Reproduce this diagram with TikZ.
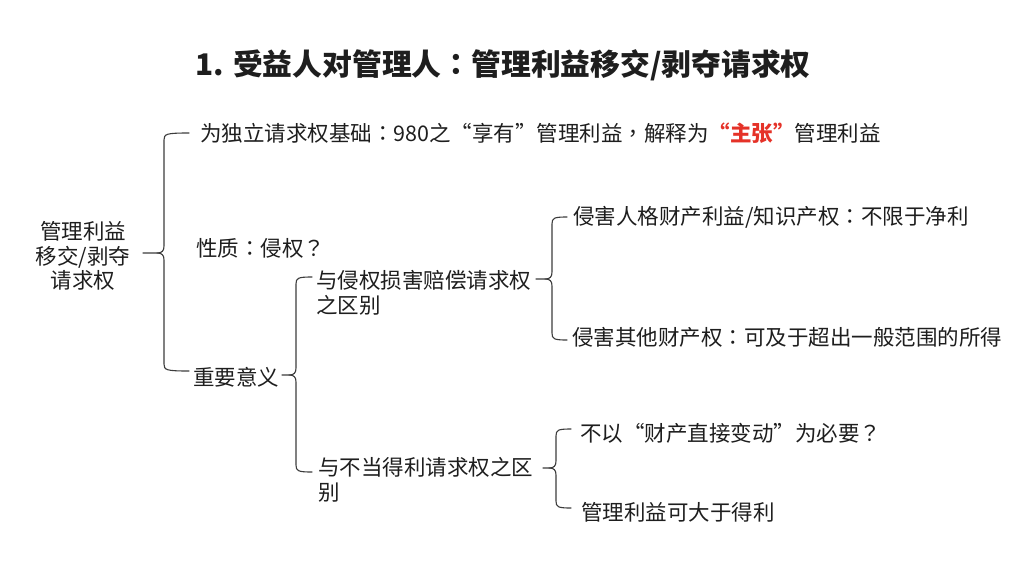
\documentclass[tikz,border=0pt]{standalone}
\usepackage{fontspec}
\setmainfont{Noto Sans CJK SC}
\newfontfamily\pctfont{Noto Sans CJK TC}
\newcommand{\cc}{{\pctfont ：}}
\newcommand{\qq}{{\pctfont ？}}
\newcommand{\cm}{{\pctfont ，}}
\definecolor{txt}{HTML}{1E1E1E}
\definecolor{brc}{HTML}{3C3C3C}
\definecolor{hl}{HTML}{E53228}
\newcommand{\bracepath}[6]{% tip-x, tip-y, vert-x, top-y, bottom-y, hook-x
  \draw[brace] (#6,#4) .. controls ({#3+2},#4) and (#3,{#4+1}) .. (#3,{#4+7})
    -- (#3,{#2-7}) .. controls (#3,{#2-2}) and ({#3-2},#2) .. ({#3-7},#2) -- (#1,#2);
  \draw[brace] ({#3-7},#2) .. controls ({#3-2},#2) and (#3,{#2+2}) .. (#3,{#2+7})
    -- (#3,{#5-7}) .. controls (#3,{#5-1}) and ({#3+2},#5) .. (#6,#5);
}
\tikzset{
  brace/.style={draw=brc, line width=1.1pt, line cap=round, line join=round},
  item/.style={anchor=west, inner sep=0pt, text=txt, font=\fontsize{21.5}{24.5}\selectfont, align=left},
}
\begin{document}
\begin{tikzpicture}[x=1pt,y=-1pt]
\useasboundingbox[fill=white] (0,0) rectangle (1018,570);
% title
\node[inner sep=0pt, text=txt, font=\fontsize{29.8}{33}\selectfont\bfseries] (title) at (503,65) {1. 受益人对管理人{\bfseries\cc}管理利益移交/剥夺请求权};
% root
\node[inner sep=0pt, text=txt, font=\fontsize{21.5}{24.5}\selectfont, align=center] (root) at (83,256) {管理利益\\移交/剥夺\\请求权};
% level 1
\node[item] (basis) at (200,133) {为独立请求权基础\cc 980之“享有”管理利益\cm 解释为{\bfseries\color{hl}“主张”}管理利益};
\node[item] (nature) at (196,248) {性质\cc 侵权\qq};
\node[item] (meaning) at (193,377) {重要意义};
% level 2
\node[item] (tort) at (316,293) {与侵权损害赔偿请求权\\之区别};
\node[item] (unjust) at (318,480) {与不当得利请求权之区\\别};
% level 3
\node[item] (t1) at (573,217) {侵害人格财产利益/知识产权\cc 不限于净利};
\node[item] (t2) at (572,337) {侵害其他财产权\cc 可及于超出一般范围的所得};
\node[item] (u1) at (580,433) {不以“财产直接变动”为必要\qq};
\node[item] (u2) at (581,512) {管理利益可大于得利};
% braces
\bracepath{143}{253}{164}{133}{371}{189}
\bracepath{282}{375}{296}{277}{472}{312}
\bracepath{536}{279}{552}{217}{340}{567}
\bracepath{543}{468}{556}{429}{508}{571}
\end{tikzpicture}
\end{document}
